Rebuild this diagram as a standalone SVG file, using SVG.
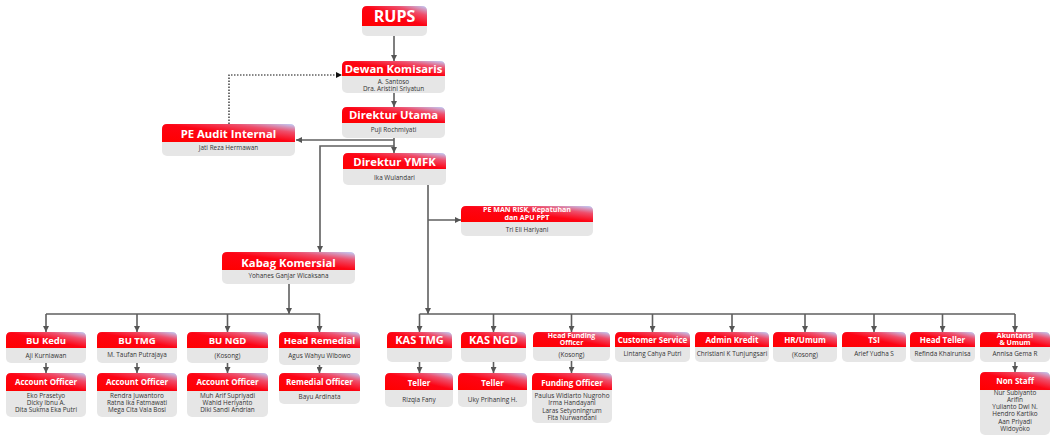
<svg xmlns="http://www.w3.org/2000/svg" width="1052" height="437" viewBox="0 0 1052 437">
<defs>
<linearGradient id="g" x1="0" y1="1" x2="1" y2="0">
<stop offset="0" stop-color="#ff0000"/>
<stop offset="0.5" stop-color="#fd0414"/>
<stop offset="0.76" stop-color="#ee4f6c"/>
<stop offset="1" stop-color="#bed3ff"/>
</linearGradient>
<marker id="ah" viewBox="0 0 10 10" refX="10" refY="5" markerWidth="6" markerHeight="6" orient="auto" markerUnits="userSpaceOnUse">
<path d="M0,0 L10,5 L0,10 z" fill="#555"/>
</marker>
<marker id="ahk" viewBox="0 0 10 10" refX="10" refY="5" markerWidth="6" markerHeight="6" orient="auto" markerUnits="userSpaceOnUse">
<path d="M0,0 L10,5 L0,10 z" fill="#111"/>
</marker>
<style>
.b{fill:#e6e6e6}
.h{fill:url(#g)}
.t{font-family:"Open Sans","DejaVu Sans",sans-serif;font-weight:700;fill:#fff;text-anchor:middle}
.s{font-family:"Open Sans","DejaVu Sans",sans-serif;font-size:6.4px;fill:#333;text-anchor:middle}
.c{fill:none;stroke:#5f5f5f;stroke-width:1.6}
.ca{fill:none;stroke:#5f5f5f;stroke-width:1.6;marker-end:url(#ah)}
.d{fill:none;stroke:#111;stroke-width:1.2;stroke-dasharray:1.5 1.5;marker-end:url(#ahk)}
</style>
</defs>
<rect width="1052" height="437" fill="#fff"/>

<g id="connectors">
<path class="ca" d="M394 36V61"/>
<path class="ca" d="M394 93V107"/>
<path class="ca" d="M394 138V153"/>
<path class="ca" d="M394 140H296"/>
<path class="ca" d="M394 146H320V252"/>
<path class="d" d="M229 124V75H342"/>
<path class="ca" d="M428 185V314"/>
<path class="ca" d="M428 220H461"/>
<path class="ca" d="M289 284V314"/>
<path class="c" d="M46 314H320"/>
<path class="ca" d="M46 314V332"/>
<path class="ca" d="M137 314V332"/>
<path class="ca" d="M227.5 314V332"/>
<path class="ca" d="M319.5 314V332"/>
<path class="c" d="M419.5 314H1015"/>
<path class="ca" d="M419.5 314V332"/>
<path class="ca" d="M493.5 314V332"/>
<path class="ca" d="M571.5 314V332"/>
<path class="ca" d="M652.5 314V332"/>
<path class="ca" d="M732 314V332"/>
<path class="ca" d="M805 314V332"/>
<path class="ca" d="M874 314V332"/>
<path class="ca" d="M942.5 314V332"/>
<path class="ca" d="M1015 314V332"/>
<path class="ca" d="M46 363V373"/>
<path class="ca" d="M137 363V373"/>
<path class="ca" d="M227.5 363V373"/>
<path class="ca" d="M319.5 365V373"/>
<path class="ca" d="M419.5 362V373"/>
<path class="ca" d="M493.5 362V373"/>
<path class="ca" d="M571.5 361V373"/>
<path class="ca" d="M1015 362V372"/>
</g>

<g id="rups" transform="translate(362,6)">
<rect class="b" width="65" height="30" rx="5"/>
<path class="h" d="M0 20V5Q0 0 5 0H60Q65 0 65 5V20Z"/>
<text class="t" x="32.5" y="16" font-size="16">RUPS</text>
</g>

<g id="dewan-komisaris" transform="translate(342,61)">
<rect class="b" width="103" height="32" rx="5"/>
<path class="h" d="M0 15V5Q0 0 5 0H98Q103 0 103 5V15Z"/>
<text class="t" x="51.5" y="11.5" font-size="11.3">Dewan Komisaris</text>
<text class="s" x="51.5" y="22.6">A. Santoso</text>
<text class="s" x="51.5" y="29.7">Dra. Aristini Sriyatun</text>
</g>

<g id="direktur-utama" transform="translate(342,107)">
<rect class="b" width="103" height="31" rx="5"/>
<path class="h" d="M0 16V5Q0 0 5 0H98Q103 0 103 5V16Z"/>
<text class="t" x="51.5" y="12" font-size="11.3">Direktur Utama</text>
<text class="s" x="51.5" y="24.5">Puji Rochmiyati</text>
</g>

<g id="pe-audit-internal" transform="translate(162,124)">
<rect class="b" width="133" height="32" rx="5"/>
<path class="h" d="M0 18V5Q0 0 5 0H128Q133 0 133 5V18Z"/>
<text class="t" x="66.5" y="13.5" font-size="11.3">PE Audit Internal</text>
<text class="s" x="66.5" y="25.5">Jati Reza Hermawan</text>
</g>

<g id="direktur-ymfk" transform="translate(343,153)">
<rect class="b" width="103" height="32" rx="5"/>
<path class="h" d="M0 16V5Q0 0 5 0H98Q103 0 103 5V16Z"/>
<text class="t" x="51.5" y="13" font-size="11.3">Direktur YMFK</text>
<text class="s" x="51.5" y="27">Ika Wulandari</text>
</g>

<g id="pe-man-risk" transform="translate(461,206)">
<rect class="b" width="132" height="30" rx="5"/>
<path class="h" d="M0 16V5Q0 0 5 0H127Q132 0 132 5V16Z"/>
<text class="t" x="66" y="6.3" font-size="7.1"><tspan x="66">PE MAN RISK, Kepatuhan</tspan><tspan x="66" dy="7.6">dan APU PPT</tspan></text>
<text class="s" x="66" y="25.5">Tri Eli Hariyani</text>
</g>

<g id="kabag-komersial" transform="translate(222,252)">
<rect class="b" width="133" height="32" rx="5"/>
<path class="h" d="M0 18V5Q0 0 5 0H128Q133 0 133 5V18Z"/>
<text class="t" x="66.5" y="14.5" font-size="11.3">Kabag Komersial</text>
<text class="s" x="66.5" y="26">Yohanes Ganjar Wicaksana</text>
</g>

<g id="bu-kedu" transform="translate(6,332)">
<rect class="b" width="80" height="31" rx="5"/>
<path class="h" d="M0 16V5Q0 0 5 0H75Q80 0 80 5V16Z"/>
<text class="t" x="40" y="12.3" font-size="9.5">BU Kedu</text>
<text class="s" x="40" y="26">Aji Kurniawan</text>
</g>

<g id="bu-tmg" transform="translate(97,332)">
<rect class="b" width="80" height="31" rx="5"/>
<path class="h" d="M0 16V5Q0 0 5 0H75Q80 0 80 5V16Z"/>
<text class="t" x="40" y="12.3" font-size="9.5">BU TMG</text>
<text class="s" x="40" y="25">M. Taufan Putrajaya</text>
</g>

<g id="bu-ngd" transform="translate(187,332)">
<rect class="b" width="81" height="31" rx="5"/>
<path class="h" d="M0 16V5Q0 0 5 0H76Q81 0 81 5V16Z"/>
<text class="t" x="40.5" y="12.3" font-size="9.5">BU NGD</text>
<text class="s" x="40.5" y="26">(Kosong)</text>
</g>

<g id="head-remedial" transform="translate(279,332)">
<rect class="b" width="81" height="33" rx="5"/>
<path class="h" d="M0 16V5Q0 0 5 0H76Q81 0 81 5V16Z"/>
<text class="t" x="40.5" y="12" font-size="9.5">Head Remedial</text>
<text class="s" x="40.5" y="26">Agus Wahyu Wibowo</text>
</g>

<g id="kas-tmg" transform="translate(387,332)">
<rect class="b" width="65" height="30" rx="5"/>
<path class="h" d="M0 16V5Q0 0 5 0H60Q65 0 65 5V16Z"/>
<text class="t" x="32.5" y="11.5" font-size="11">KAS TMG</text>
</g>

<g id="kas-ngd" transform="translate(461,332)">
<rect class="b" width="65" height="30" rx="5"/>
<path class="h" d="M0 16V5Q0 0 5 0H60Q65 0 65 5V16Z"/>
<text class="t" x="32.5" y="11.5" font-size="11">KAS NGD</text>
</g>

<g id="head-funding-officer" transform="translate(533,332)">
<rect class="b" width="77" height="29" rx="5"/>
<path class="h" d="M0 15V5Q0 0 5 0H72Q77 0 77 5V15Z"/>
<text class="t" x="38.5" y="6" font-size="6.9"><tspan x="38.5">Head Funding</tspan><tspan x="38.5" dy="7">Officer</tspan></text>
<text class="s" x="38.5" y="24.5">(Kosong)</text>
</g>

<g id="customer-service" transform="translate(615,332)">
<rect class="b" width="75" height="30" rx="5"/>
<path class="h" d="M0 15V5Q0 0 5 0H70Q75 0 75 5V15Z"/>
<text class="t" x="37.5" y="10.8" font-size="8">Customer Service</text>
<text class="s" x="37.5" y="24">Lintang Cahya Putri</text>
</g>

<g id="admin-kredit" transform="translate(695,332)">
<rect class="b" width="74" height="30" rx="5"/>
<path class="h" d="M0 15V5Q0 0 5 0H69Q74 0 74 5V15Z"/>
<text class="t" x="37" y="10.8" font-size="8">Admin Kredit</text>
<text class="s" x="37" y="24">Christiani K Tunjungsari</text>
</g>

<g id="hr-umum" transform="translate(773,332)">
<rect class="b" width="64" height="30" rx="5"/>
<path class="h" d="M0 15V5Q0 0 5 0H59Q64 0 64 5V15Z"/>
<text class="t" x="32" y="10.8" font-size="8">HR/Umum</text>
<text class="s" x="32" y="24.5">(Kosong)</text>
</g>

<g id="tsi" transform="translate(842,332)">
<rect class="b" width="64" height="30" rx="5"/>
<path class="h" d="M0 15V5Q0 0 5 0H59Q64 0 64 5V15Z"/>
<text class="t" x="32" y="10.8" font-size="8">TSI</text>
<text class="s" x="32" y="24">Arief Yudha S</text>
</g>

<g id="head-teller" transform="translate(910,332)">
<rect class="b" width="65" height="30" rx="5"/>
<path class="h" d="M0 15V5Q0 0 5 0H60Q65 0 65 5V15Z"/>
<text class="t" x="32.5" y="10.8" font-size="8">Head Teller</text>
<text class="s" x="32.5" y="24">Refinda Khairunisa</text>
</g>

<g id="akuntansi-umum" transform="translate(980,332)">
<rect class="b" width="70" height="30" rx="5"/>
<path class="h" d="M0 15V5Q0 0 5 0H65Q70 0 70 5V15Z"/>
<text class="t" x="35" y="5.5" font-size="7.1"><tspan x="35">Akuntansi</tspan><tspan x="35" dy="7.6">&amp; Umum</tspan></text>
<text class="s" x="35" y="23.5">Annisa Gema R</text>
</g>

<g id="account-officer-kedu" transform="translate(6,373)">
<rect class="b" width="80" height="44" rx="5"/>
<path class="h" d="M0 18V5Q0 0 5 0H75Q80 0 80 5V18Z"/>
<text class="t" x="40" y="12.3" font-size="8">Account Officer</text>
<text class="s" x="40" y="24.8">Eko Prasetyo</text>
<text class="s" x="40" y="32.1">Dicky Ibnu A.</text>
<text class="s" x="40" y="39.4">Dita Sukma Eka Putri</text>
</g>

<g id="account-officer-tmg" transform="translate(97,373)">
<rect class="b" width="80" height="44" rx="5"/>
<path class="h" d="M0 18V5Q0 0 5 0H75Q80 0 80 5V18Z"/>
<text class="t" x="40" y="12.3" font-size="8">Account Officer</text>
<text class="s" x="40" y="24.8">Rendra Juwantoro</text>
<text class="s" x="40" y="32.1">Ratna Ika Fatmawati</text>
<text class="s" x="40" y="39.4">Mega Cita Vala Bosi</text>
</g>

<g id="account-officer-ngd" transform="translate(187,373)">
<rect class="b" width="81" height="44" rx="5"/>
<path class="h" d="M0 18V5Q0 0 5 0H76Q81 0 81 5V18Z"/>
<text class="t" x="40.5" y="12.3" font-size="8">Account Officer</text>
<text class="s" x="40.5" y="24.8">Muh Arif Supriyadi</text>
<text class="s" x="40.5" y="32.1">Wahid Heriyanto</text>
<text class="s" x="40.5" y="39.4">Diki Sandi Andrian</text>
</g>

<g id="remedial-officer" transform="translate(279,373)">
<rect class="b" width="81" height="31" rx="5"/>
<path class="h" d="M0 18V5Q0 0 5 0H76Q81 0 81 5V18Z"/>
<text class="t" x="40.5" y="12.3" font-size="8">Remedial Officer</text>
<text class="s" x="40.5" y="26">Bayu Ardinata</text>
</g>

<g id="teller-tmg" transform="translate(385,373)">
<rect class="b" width="68" height="34" rx="5"/>
<path class="h" d="M0 17V5Q0 0 5 0H63Q68 0 68 5V17Z"/>
<text class="t" x="34" y="13" font-size="8">Teller</text>
<text class="s" x="34" y="29">Rizqia Fany</text>
</g>

<g id="teller-ngd" transform="translate(458,373)">
<rect class="b" width="69" height="34" rx="5"/>
<path class="h" d="M0 17V5Q0 0 5 0H64Q69 0 69 5V17Z"/>
<text class="t" x="34.5" y="13" font-size="8">Teller</text>
<text class="s" x="34.5" y="29">Uky Prihaning H.</text>
</g>

<g id="funding-officer" transform="translate(532,373)">
<rect class="b" width="80" height="50" rx="5"/>
<path class="h" d="M0 17V5Q0 0 5 0H75Q80 0 80 5V17Z"/>
<text class="t" x="40" y="12.5" font-size="8">Funding Officer</text>
<text class="s" x="40" y="25">Paulus Widiarto Nugroho</text>
<text class="s" x="40" y="32">Irma Handayani</text>
<text class="s" x="40" y="39.5">Laras Setyoningrum</text>
<text class="s" x="40" y="47">Fita Nurwandani</text>
</g>

<g id="non-staff" transform="translate(980,372)">
<rect class="b" width="70" height="63" rx="5"/>
<path class="h" d="M0 18V5Q0 0 5 0H65Q70 0 70 5V18Z"/>
<text class="t" x="35" y="11.5" font-size="8">Non Staff</text>
<text class="s" x="35" y="22.5">Nur Subiyanto</text>
<text class="s" x="35" y="29.5">Arifin</text>
<text class="s" x="35" y="36.8">Yulianto Dwi N.</text>
<text class="s" x="35" y="44.3">Hendro Kartiko</text>
<text class="s" x="35" y="51.8">Aan Priyadi</text>
<text class="s" x="35" y="59">Widoyoko</text>
</g>
</svg>
